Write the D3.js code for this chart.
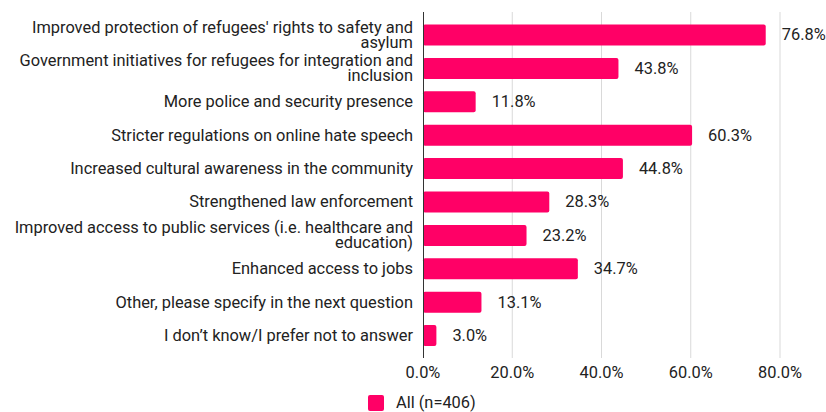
<!DOCTYPE html>
<html><head><meta charset="utf-8">
<script src="https://cdn.jsdelivr.net/npm/d3@7"></script>
<style>body{margin:0;background:#fff;}text{font-family:Roboto,sans-serif;}</style>
</head><body><svg id="c" width="826" height="412"></svg>
<script>
const categories = [
  ["Improved protection of refugees' rights to safety and","asylum"],
  ["Government initiatives for refugees for integration and","inclusion"],
  ["More police and security presence"],
  ["Stricter regulations on online hate speech"],
  ["Increased cultural awareness in the community"],
  ["Strengthened law enforcement"],
  ["Improved access to public services (i.e. healthcare and","education)"],
  ["Enhanced access to jobs"],
  ["Other, please specify in the next question"],
  ["I don\u2019t know/I prefer not to answer"]
];
const values = [76.8, 43.8, 11.8, 60.3, 44.8, 28.3, 23.2, 34.7, 13.1, 3.0];
const ticks = [0, 20, 40, 60, 80];
const seriesName = "All (n=406)";
const color = "#ff0066";

const svg = d3.select("#c");
const fs = 16.4;
const x = d3.scaleLinear().domain([0, 80]).range([423, 780]);
const y = d3.scaleBand().domain(d3.range(values.length)).range([18.3, 352.3]).paddingInner(0.37).paddingOuter(0.185);

// gridlines
svg.append("g").selectAll("line").data(ticks.slice(1)).join("line")
  .attr("x1", d => x(d)).attr("x2", d => x(d)).attr("y1", 12).attr("y2", 358)
  .attr("stroke", "#d9d9d9").attr("stroke-width", 1);

// bars
svg.append("g").selectAll("rect").data(values).join("rect")
  .attr("x", x(0)).attr("y", (d, i) => y(i))
  .attr("width", d => x(d) - x(0)).attr("height", y.bandwidth())
  .attr("rx", 2).attr("fill", color);

// axis line
svg.append("line").attr("x1", x(0)+0.5).attr("x2", x(0)+0.5).attr("y1", 12).attr("y2", 358)
  .attr("stroke", "#333").attr("stroke-width", 1);

// value labels
svg.append("g").selectAll("text").data(values).join("text")
  .attr("x", d => x(d) + 16).attr("y", (d, i) => y(i) + y.bandwidth() / 2)
  .attr("dy", "0.33em").attr("font-size", fs).attr("fill", "#222")
  .text(d => d.toFixed(1) + "%");

// category labels
const cl = svg.append("g").selectAll("text").data(categories).join("text")
  .attr("text-anchor", "end").attr("font-size", fs).attr("fill", "#222")
  .attr("x", 413)
  .attr("y", (d, i) => y(i) + y.bandwidth() / 2 - (d.length - 1) * 7.5);
cl.selectAll("tspan").data(d => d).join("tspan")
  .attr("x", 413).attr("dy", (d, i) => i === 0 ? "0.33em" : "15px").text(d => d);

// x tick labels
svg.append("g").selectAll("text").data(ticks).join("text")
  .attr("x", d => x(d)).attr("y", 378)
  .attr("text-anchor", "middle").attr("font-size", fs).attr("fill", "#222")
  .text(d => d.toFixed(1) + "%");

// legend
svg.append("rect").attr("x", 368).attr("y", 395).attr("width", 16).attr("height", 16).attr("rx", 2).attr("fill", color);
svg.append("text").attr("x", 396).attr("y", 408).attr("font-size", fs).attr("fill", "#222").text(seriesName);
</script></body></html>
